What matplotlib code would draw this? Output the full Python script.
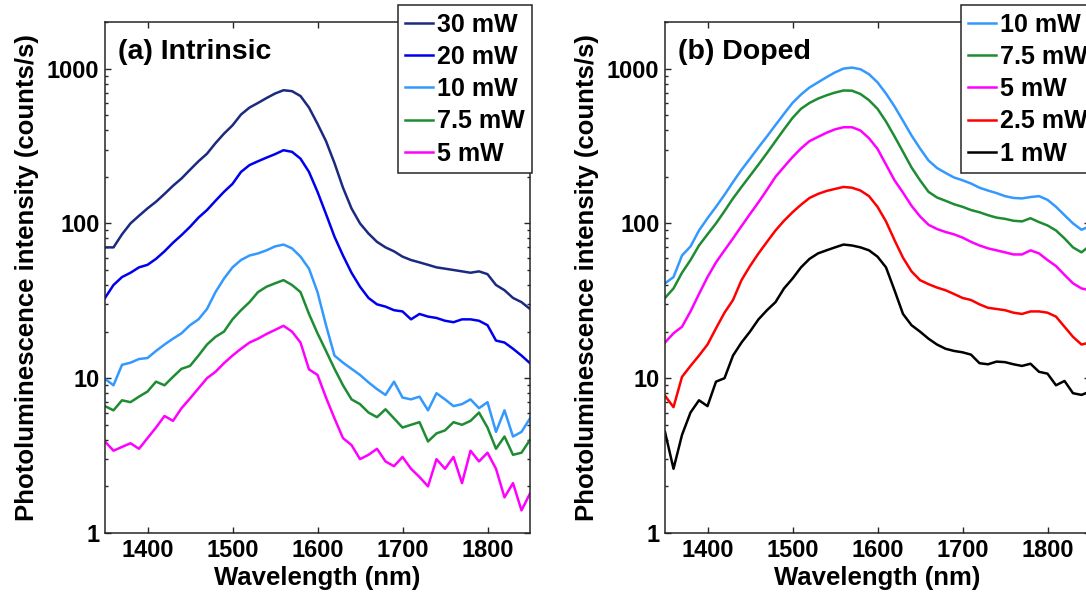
import matplotlib
matplotlib.use("Agg")
import matplotlib.pyplot as plt
from matplotlib.ticker import LogLocator, NullLocator, FixedLocator, NullFormatter

plt.rcParams['font.family'] = ['Liberation Sans', 'DejaVu Sans']
plt.rcParams['font.weight'] = 'bold'
plt.rcParams['axes.labelweight'] = 'bold'

# ---------------- data ----------------
wavelength = list(range(1350, 1851, 10))

# (a) Intrinsic
intr_30mW = [70, 70, 85, 100, 112, 125, 138, 155, 175, 195, 222, 252, 282, 330, 380, 430, 505, 560, 600, 645,
             690, 725, 715, 665, 560, 440, 340, 245, 170, 125, 100, 86, 76, 70, 66, 61, 58, 56, 54, 52,
             51, 50, 49, 48, 49, 47, 40, 37, 33, 31, 28]
intr_20mW = [33, 40, 45, 48, 52, 54, 59, 66, 75, 84, 95, 109, 122, 140, 160, 180, 215, 238, 252, 266,
             280, 297, 290, 262, 215, 160, 115, 82, 62, 48, 39, 33, 30, 29, 27.5, 27, 24, 26, 25, 24.5,
             23.5, 23, 24, 24, 23.5, 22, 17.5, 17, 15.5, 14, 12.5]
intr_10mW = [9.9, 9.0, 12.2, 12.6, 13.3, 13.5, 15.0, 16.5, 18.0, 19.5, 22.0, 24.0, 28.0, 36.0, 44.0, 52.0, 58.0, 62.0, 64.0, 67.0,
             71.0, 73.0, 69.0, 61.0, 51.0, 36.0, 22.0, 14.0, 12.6, 11.5, 10.5, 9.4, 8.5, 7.8, 9.5, 7.5, 7.3, 7.6, 6.2, 8.0,
             7.3, 6.6, 6.8, 7.3, 6.4, 7.0, 4.5, 6.2, 4.2, 4.5, 5.5]
intr_7p5mW = [6.6, 6.2, 7.2, 7.0, 7.6, 8.2, 9.5, 9.0, 10.2, 11.5, 12.0, 14.0, 16.5, 18.5, 20.0, 24.0, 27.5, 31.0, 36.0, 39.0,
              41.0, 43.0, 40.0, 36.0, 26.0, 19.5, 15.0, 11.5, 9.0, 7.3, 6.8, 6.0, 5.6, 6.3, 5.5, 4.8, 5.0, 5.2, 3.9, 4.4,
              4.6, 5.2, 5.0, 5.3, 6.0, 4.8, 3.5, 4.2, 3.2, 3.3, 4.0]
intr_5mW = [3.9, 3.4, 3.6, 3.8, 3.5, 4.1, 4.8, 5.7, 5.3, 6.4, 7.4, 8.6, 10.0, 11.0, 12.5, 14.0, 15.5, 17.0, 18.0, 19.3,
            20.5, 21.8, 20.0, 17.0, 11.4, 10.5, 7.5, 5.5, 4.1, 3.7, 3.0, 3.2, 3.5, 2.9, 2.7, 3.1, 2.6, 2.3, 2.0, 3.0,
            2.6, 3.1, 2.1, 3.4, 2.9, 3.3, 2.6, 1.7, 2.1, 1.4, 1.8]

# (b) Doped
dop_10mW = [41, 45, 62, 71, 90, 108, 128, 153, 185, 222, 262, 310, 365, 432, 510, 600, 680, 755, 815, 880,
            945, 1000, 1015, 990, 920, 815, 690, 570, 460, 370, 305, 255, 228, 212, 198, 190, 181, 170, 163, 157,
            150, 146, 145, 148, 150, 142, 128, 113, 100, 91, 96]
dop_7p5mW = [33, 38, 48, 58, 72, 85, 100, 120, 145, 172, 203, 240, 285, 340, 405, 480, 550, 600, 640, 672,
             700, 722, 720, 685, 625, 550, 455, 365, 290, 230, 190, 160, 147, 140, 133, 128, 122, 118, 113, 109,
             107, 104, 103, 108, 102, 97, 90, 80, 70, 65, 72]
dop_5mW = [17, 19.5, 21.5, 27, 35, 45, 56, 67, 80, 96, 115, 137, 165, 200, 232, 268, 305, 340, 362, 385,
           405, 418, 418, 398, 355, 303, 240, 190, 158, 130, 111, 98, 92, 88, 85, 81, 76, 72, 69, 67,
           65, 63, 63, 67, 64, 58, 53, 46.5, 41, 38, 37]
dop_2p5mW = [7.7, 6.5, 10.2, 12.0, 14.0, 16.5, 21.0, 26.5, 32.0, 43.0, 53.0, 64.0, 76.0, 90.0, 104, 118, 132, 146, 155, 162,
             167, 172, 170, 163, 150, 128, 103, 78, 60, 49, 43, 40.5, 38.5, 37, 35, 33, 32, 30, 28.5, 28,
             27.5, 26.5, 26, 27, 27, 26.5, 25, 21.5, 18.5, 16.5, 17]
dop_1mW = [4.5, 2.6, 4.3, 6.0, 7.2, 6.6, 9.5, 10.0, 14.0, 17.0, 20.0, 24.0, 27.5, 31.0, 38.0, 44.0, 52.0, 59.0, 64.0, 67.0,
           70.0, 73.0, 72.0, 70.0, 67.0, 61.0, 52.0, 37.0, 26.0, 22.0, 20.0, 18.0, 16.5, 15.5, 15.0, 14.7, 14.2, 12.5, 12.3, 12.8,
           12.7, 12.3, 12.0, 12.4, 11.0, 10.7, 9.0, 9.6, 8.0, 7.8, 8.2]

labels_a = ['30 mW', '20 mW', '10 mW', '7.5 mW', '5 mW']
series_a = [intr_30mW, intr_20mW, intr_10mW, intr_7p5mW, intr_5mW]
colors_a = ['#1b2a80', '#0000ee', '#3399ff', '#1e8c32', '#ff00ff']

labels_b = ['10 mW', '7.5 mW', '5 mW', '2.5 mW', '1 mW']
series_b = [dop_10mW, dop_7p5mW, dop_5mW, dop_2p5mW, dop_1mW]
colors_b = ['#3399ff', '#1e8c32', '#ff00ff', '#ff0000', '#000000']

x_ticks = [1400, 1500, 1600, 1700, 1800]
y_ticks = [1, 10, 100, 1000]
y_ticklabels = ['1', '10', '100', '1000']

# ---------------- figure ----------------
W, H = 1086, 600
fig = plt.figure(figsize=(W / 100, H / 100), dpi=100)
ax1 = fig.add_axes([105 / W, 67 / H, 425 / W, 511 / H])
ax2 = fig.add_axes([665 / W, 67 / H, 425 / W, 511 / H])

FS = 17
panels = [(ax1, series_a, labels_a, colors_a, '(a) Intrinsic', 0.689),
          (ax2, series_b, labels_b, colors_b, '(b) Doped', 0.696)]

for ax, series, labels, colors, title, legx in panels:
    for ys, lab, col in zip(series, labels, colors):
        ax.plot(wavelength, ys, color=col, lw=1.8, label=lab)
    ax.set_yscale('log')
    ax.set_xlim(1350, 1850)
    ax.set_ylim(1, 2000)
    ax.xaxis.set_major_locator(FixedLocator(x_ticks))
    ax.xaxis.set_minor_locator(NullLocator())
    ax.set_yticks(y_ticks)
    ax.set_yticklabels(y_ticklabels)
    ax.yaxis.set_minor_locator(LogLocator(base=10, subs=range(2, 10)))
    ax.yaxis.set_minor_formatter(NullFormatter())
    ax.tick_params(which='both', direction='in', top=True, right=True,
                   colors='#262626', labelcolor='black', width=1.0)
    ax.tick_params(which='major', length=4.5, labelsize=FS)
    ax.tick_params(which='minor', length=2.5)
    ax.tick_params(axis='x', pad=4)
    ax.tick_params(axis='y', pad=4)
    for lbl in ax.get_xticklabels() + ax.get_yticklabels():
        lbl.set_fontweight('bold')
    for sp in ax.spines.values():
        sp.set_color('#262626')
        sp.set_linewidth(1.1)
    ax.set_xlabel('Wavelength (nm)', fontsize=18.5, fontweight='bold', labelpad=3)
    ax.set_ylabel('Photoluminescence intensity (counts/s)', fontsize=18.5, fontweight='bold', labelpad=6)
    ax.text(0.03, 0.928, title, transform=ax.transAxes, fontsize=20.5,
            fontweight='bold', va='baseline', ha='left')
    leg = ax.legend(loc='upper left', bbox_to_anchor=(legx, 1.033), borderaxespad=0,
                    frameon=True, fancybox=False, framealpha=1,
                    edgecolor='#262626', handlelength=1.1, handletextpad=0.15,
                    labelspacing=0.33, borderpad=0.3,
                    prop={'weight': 'bold', 'size': FS + 1})
    leg.get_frame().set_linewidth(1.1)

fig.savefig('out.png', dpi=100)
